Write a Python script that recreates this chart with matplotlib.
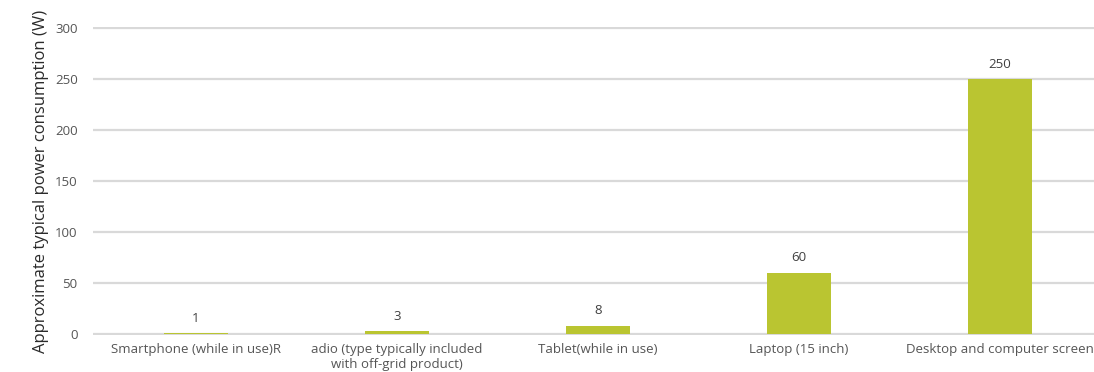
import matplotlib
matplotlib.use("Agg")
import matplotlib.pyplot as plt

# data
devices = [
    "Smartphone (while in use)R",
    "adio (type typically included\nwith off-grid product)",
    "Tablet(while in use)",
    "Laptop (15 inch)",
    "Desktop and computer screen",
]
watts = [1, 3, 8, 60, 250]
y_ticks = [0, 50, 100, 150, 200, 250, 300]

GREEN = "#bac531"
GRID = "#d9d9d9"
TICK = "#555555"
LABEL = "#2a2a2a"

plt.rcParams["font.family"] = ["Open Sans", "DejaVu Sans"]

fig = plt.figure(figsize=(10.94, 3.72), dpi=100)
ax = fig.add_axes([93 / 1094, 1 - 335 / 372, 1 - 93 / 1094, 308 / 372])

x = list(range(len(devices)))
ax.bar(x, watts, width=0.32, color=GREEN, zorder=3)

for xi, v in zip(x, watts):
    ax.annotate(str(v), (xi, v), xytext=(0, 6), textcoords="offset points",
                ha="center", va="bottom", fontsize=9.5, color="#404040")

ax.set_xlim(-0.512, 4.468)
ax.set_ylim(-1, 301)
ax.set_yticks(y_ticks)
ax.set_xticks(x)
ax.set_xticklabels(devices, fontsize=9.5, color=TICK, linespacing=1.15)
ax.tick_params(axis="both", length=0, labelsize=9.5, labelcolor=TICK)
ax.tick_params(axis="y", pad=11)
ax.tick_params(axis="x", pad=6)

ax.yaxis.grid(True, color=GRID, linewidth=1.6)
ax.set_axisbelow(True)
for s in ax.spines.values():
    s.set_visible(False)

ax.set_ylabel("Approximate typical power consumption (W)", fontsize=12,
              color=LABEL, labelpad=4)

fig.savefig("out.png", dpi=100)
